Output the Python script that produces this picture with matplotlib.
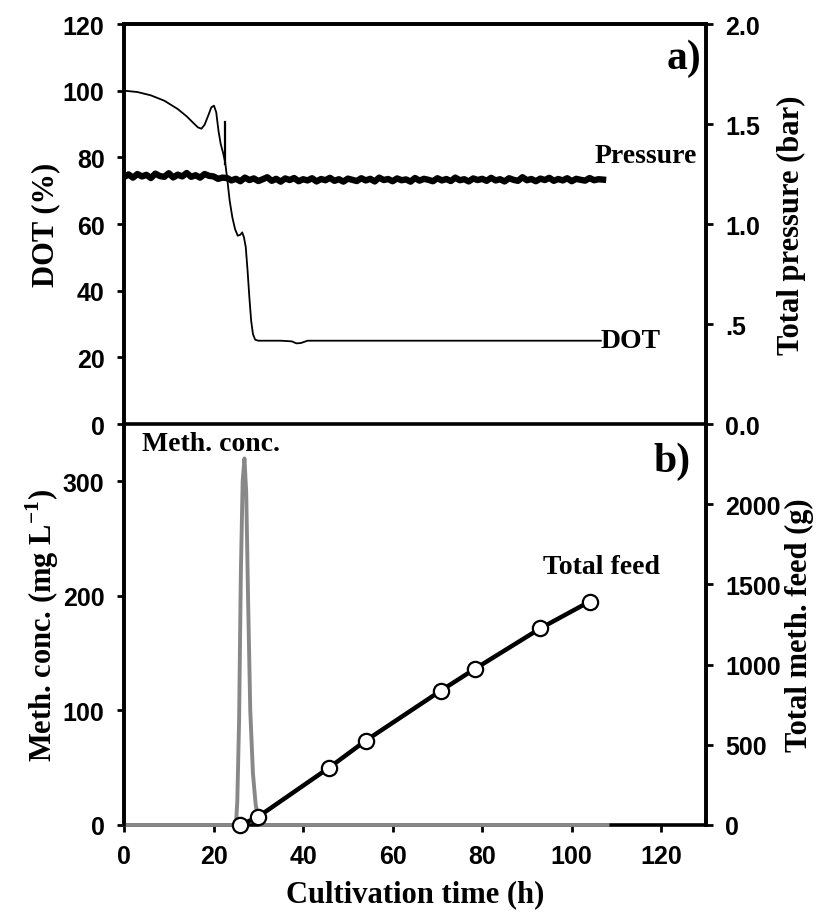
import numpy as np
import matplotlib
matplotlib.use("Agg")
import matplotlib.pyplot as plt

# --- data ---
# panel a) dissolved oxygen (%)
dot_t = [0, 3, 6, 9, 12, 14, 15.5, 16.5, 17.3, 18,
         18.8, 19.5, 20.1, 20.6, 21.1, 21.6, 22.1, 22.6, 23.1, 23.6,
         24.2, 24.8, 25.4, 26.0, 26.4, 26.8, 27.2, 27.6, 28.0, 28.4,
         28.8, 29.3, 30, 35, 37.5, 38.5, 39.5, 41, 50, 106.5]
dot_v = [100, 99.6, 98.6, 97, 94.5, 92.3, 90.3, 89, 88.6, 89.8,
         92.5, 95, 95.5, 93.5, 88, 84, 81.5, 78.5, 73, 67,
         62, 58.5, 56.5, 56.8, 57.5, 56, 53, 46, 38, 31,
         27, 25.3, 25, 25, 24.8, 24.2, 24.3, 25, 25, 25]
spike_t = [22.6, 22.6]
spike_v = [90.5, 78]

# panel a) total pressure (bar), hourly readings 0..107 h
pressure_t = np.arange(0, 108)
pressure = [1.235, 1.248, 1.232, 1.250, 1.238, 1.246, 1.230, 1.252, 1.240, 1.236,
            1.254, 1.233, 1.247, 1.238, 1.255, 1.236, 1.244, 1.232, 1.250, 1.241,
            1.238, 1.226, 1.232,
            1.230, 1.218, 1.226, 1.214, 1.232, 1.220, 1.228, 1.215, 1.224, 1.234,
            1.216, 1.226, 1.212, 1.228, 1.220, 1.230, 1.214, 1.224, 1.218, 1.229,
            1.213, 1.225, 1.219, 1.231, 1.216, 1.224, 1.212, 1.227, 1.221, 1.215,
            1.229, 1.218, 1.226, 1.213, 1.232, 1.220, 1.225, 1.214, 1.228, 1.219,
            1.223, 1.212, 1.230, 1.217, 1.226, 1.221, 1.214, 1.229, 1.218, 1.225,
            1.215, 1.232, 1.219, 1.224, 1.213, 1.228, 1.220, 1.226, 1.216, 1.231,
            1.218, 1.224, 1.213, 1.229, 1.221, 1.216, 1.234, 1.219, 1.225, 1.214,
            1.227, 1.220, 1.231, 1.216, 1.225, 1.218, 1.229, 1.214, 1.226, 1.221,
            1.217, 1.230, 1.219, 1.224, 1.222]

# panel b) methanol concentration (mg/L)
meth_t = [0, 25.0, 25.3, 25.7, 26.1, 26.5, 26.9, 27.3, 27.7, 28.2, 28.8, 29.4, 30.0, 30.4, 108]
meth_c = [0, 0, 20, 90, 220, 300, 320, 290, 200, 100, 45, 18, 5, 0, 0]

# panel b) total methanol feed (g)
feed_t = [26, 29.9, 45.8, 54, 70.8, 78.3, 93, 104]
feed_g = [0, 50, 357, 526, 838, 972, 1226, 1393]

# --- styling ---
plt.rcParams['mathtext.fontset'] = 'custom'
plt.rcParams['mathtext.rm'] = 'Liberation Serif:bold'
plt.rcParams['mathtext.bf'] = 'Liberation Serif:bold'

label_font = dict(family='Liberation Serif', weight='bold', size=22)
note_font = dict(family='Liberation Serif', weight='bold', size=20)
lw_spine = 2.6


def style(ax):
    for s in ax.spines.values():
        s.set_linewidth(lw_spine)
    ax.tick_params(direction='out', length=5, width=2, labelsize=18, pad=9)
    for lab in ax.get_xticklabels() + ax.get_yticklabels():
        lab.set_fontfamily('Liberation Sans')
        lab.set_fontweight('bold')


fig = plt.figure(figsize=(8.24, 9.2), dpi=100)
ax1 = fig.add_axes([0.1505, 0.538, 0.7063, 0.4348])
ax2 = fig.add_axes([0.1505, 0.1022, 0.7063, 0.4358])

# ---- top panel ----
ax1r = ax1.twinx()
ax1.plot(dot_t, dot_v, color='black', lw=1.3)
ax1.plot(spike_t, spike_v, color='black', lw=1.6)
ax1r.plot(pressure_t, pressure, color='black', lw=4.6)

ax1.set_xlim(0, 130)
ax1.set_ylim(0, 120)
ax1.set_yticks([0, 20, 40, 60, 80, 100, 120])
ax1r.set_ylim(0, 2.0)
ax1r.set_yticks([0, 0.5, 1.0, 1.5, 2.0])
ax1r.set_yticklabels(['0.0', '.5', '1.0', '1.5', '2.0'])
ax1.tick_params(bottom=False, labelbottom=False)
ax1r.tick_params(bottom=False, labelbottom=False)
ax1.spines['bottom'].set_visible(False)
ax1r.spines['bottom'].set_visible(False)
style(ax1)
style(ax1r)

ax1.set_ylabel('DOT (%)', labelpad=2, **label_font)
ax1r.set_ylabel('Total pressure (bar)', labelpad=12, **label_font)

ax1.text(128, 80.5, 'Pressure', ha='right', va='center', **note_font)
ax1.text(106.5, 25, 'DOT', ha='left', va='center', **note_font)
ax1.text(129, 110, 'a)', ha='right', va='center', family='Liberation Serif',
         weight='bold', size=30)

# ---- bottom panel ----
ax2r = ax2.twinx()
ax2.plot(meth_t, meth_c, color='#888888', lw=2.8, zorder=3, clip_on=False)
ax2r.plot(feed_t, feed_g, color='black', lw=3.2, marker='o', ms=11,
          mfc='white', mec='black', mew=1.6, zorder=4, clip_on=False)

ax2.set_xlim(0, 130)
ax2.set_ylim(0, 350)
ax2.set_yticks([0, 100, 200, 300])
ax2.set_xticks([0, 20, 40, 60, 80, 100, 120])
ax2r.set_ylim(0, 2500)
ax2r.set_yticks([0, 500, 1000, 1500, 2000])
ax2r.spines['bottom'].set_visible(False)
ax2r.spines['top'].set_visible(False)
style(ax2)
style(ax2r)

ax2.set_xlabel('Cultivation time (h)', labelpad=8, **label_font)
ax2.set_ylabel('Meth. conc. (mg L$^{-1}$)', labelpad=1, **label_font)
ax2r.set_ylabel('Total meth. feed (g)', labelpad=3, **label_font)

ax2.text(4, 333, 'Meth. conc.', ha='left', va='center', **note_font)
ax2.text(93.7, 226, 'Total feed', ha='left', va='center', **note_font)
ax2.text(126.5, 318, 'b)', ha='right', va='center', family='Liberation Serif',
         weight='bold', size=30)

fig.savefig('out.png', dpi=100)
